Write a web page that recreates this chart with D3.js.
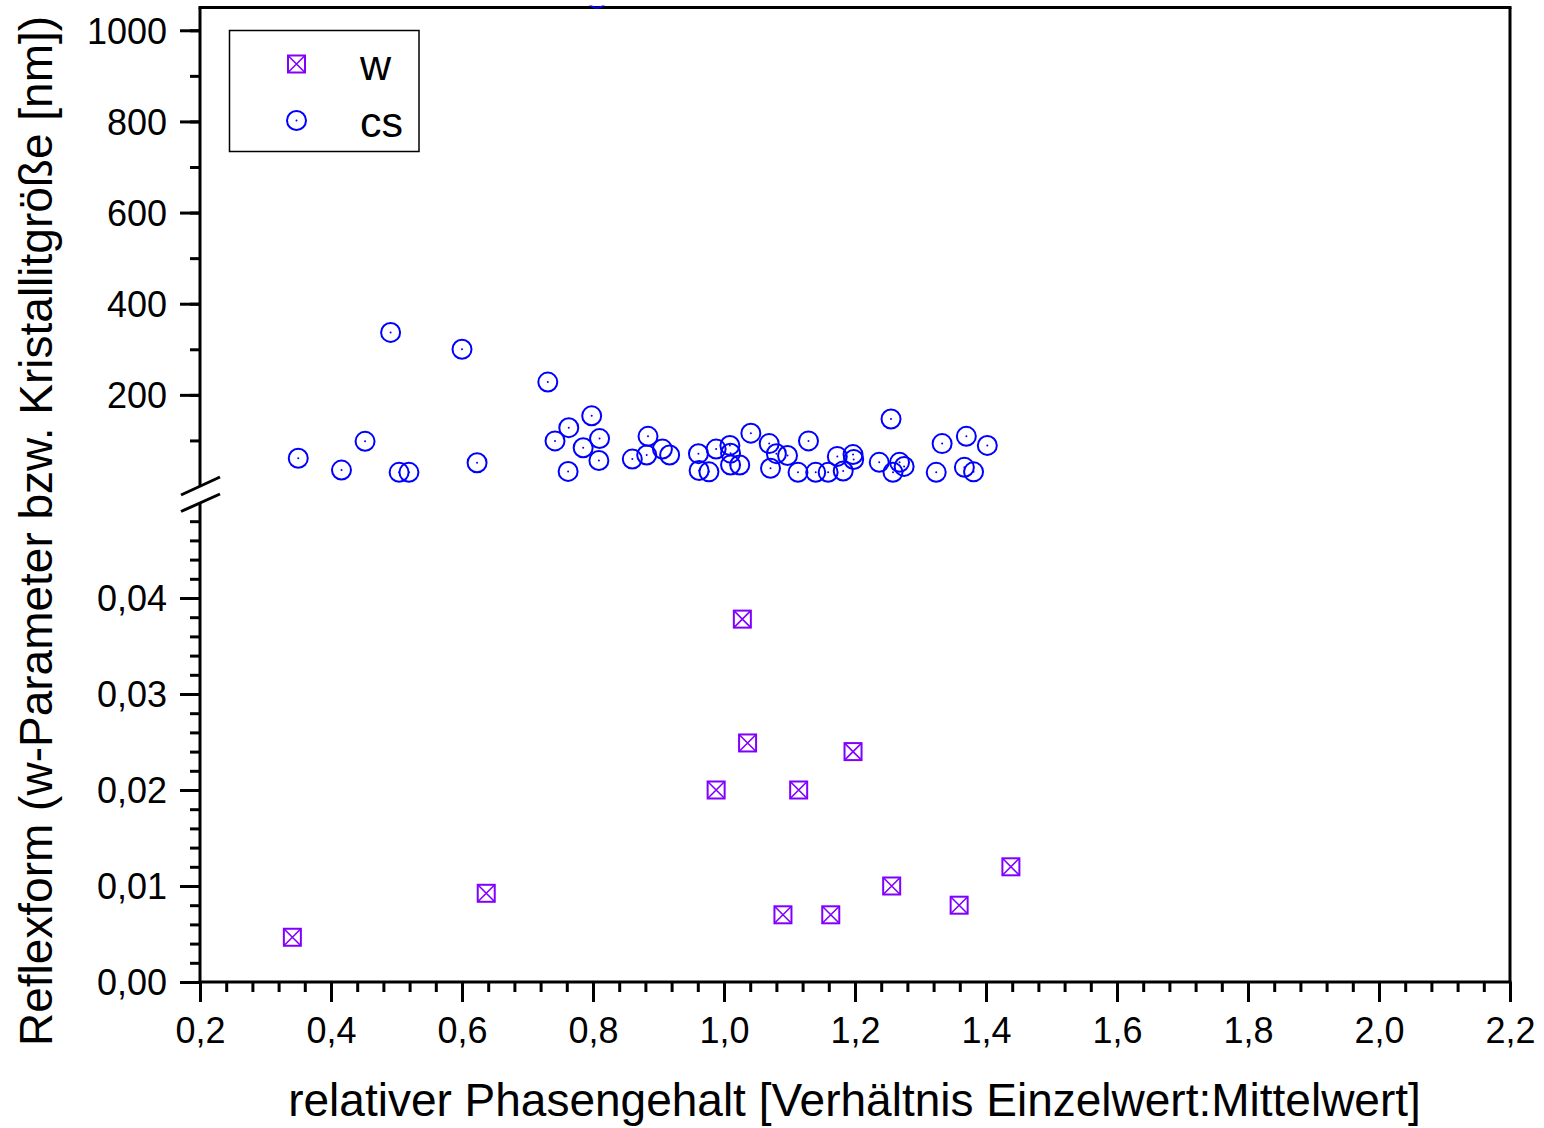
<!DOCTYPE html>
<html>
<head>
<meta charset="utf-8">
<script src="https://cdn.jsdelivr.net/npm/d3@7"></script>
<style>
  html, body { margin: 0; padding: 0; background: #fff; }
  svg { display: block; font-family: "Liberation Sans", Arial, Helvetica, sans-serif; }
</style>
</head>
<body>
<svg id="chart" width="1544" height="1128"></svg>
<script>
// ---- data ----
const wX = [0.341, 0.637, 1.028, 1.036, 0.988, 1.114, 1.197, 1.090, 1.163, 1.256, 1.359, 1.438];
const wY = [0.00466, 0.00924, 0.0378, 0.0249, 0.0200, 0.0200, 0.0240, 0.0070, 0.0070, 0.0100, 0.0080, 0.0120];

const csX = [0.350, 0.416, 0.452, 0.491, 0.504, 0.519, 0.600, 0.623, 0.731, 0.742,
             0.763, 0.762, 0.785, 0.798, 0.810, 0.809, 0.860, 0.882, 0.884, 0.906,
             0.917, 0.961, 0.962, 0.977, 0.988, 1.009, 1.010, 1.010, 1.024, 1.041,
             1.069, 1.071, 1.080, 1.097, 1.113, 1.129, 1.140, 1.159, 1.173, 1.182,
             1.197, 1.198, 1.237, 1.255, 1.258, 1.268, 1.275, 1.324, 1.333, 1.367,
             1.370, 1.381, 1.402, 0.806];
const csY = [61, 35, 98, 337, 30, 30, 300, 51, 228, 99,
             128, 32, 84, 154, 104, 56, 59, 68, 109, 81,
             68, 71, 34, 31, 81, 89, 72, 46, 46, 116,
             93, 39, 71, 67, 30, 99, 30, 30, 65, 33,
             69, 58, 52, 147, 30, 52, 43, 30, 93, 41,
             109, 31, 89, 1070];

const xTickValues = [0.2, 0.4, 0.6, 0.8, 1.0, 1.2, 1.4, 1.6, 1.8, 2.0, 2.2];
const yLowTickValues = [0.00, 0.01, 0.02, 0.03, 0.04];
const yHighTickValues = [200, 400, 600, 800, 1000];
const legendLabels = ["w", "cs"];
const xTitle = "relativer Phasengehalt [Verhältnis Einzelwert:Mittelwert]";
const yTitle = "Reflexform (w-Parameter bzw. Kristallitgröße [nm])";

// ---- layout ----
const L = 200, R = 1510, T = 7.5, B = 982;
const lowTop = 502, highBottom = 486;
const svg = d3.select("#chart");

const x = d3.scaleLinear().domain([0.2, 2.2]).range([L, R]);
const yLow = d3.scaleLinear().domain([0, 0.05]).range([B, lowTop]);
const yHigh = d3.scaleLinear().domain([0, 1050]).range([highBottom, T]);

const comma = f => v => d3.format(f)(v).replace(".", ",");

// minor ticks
const xMinor = d3.range(0, 51).map(i => 0.2 + i * 0.04).filter(v => v <= 2.2001);
const yLowMinor = d3.range(0, 25).map(i => i * 0.002);
const yHighMinor = d3.range(1, 11).map(i => i * 100);

function styleAxis(g) {
  g.select(".domain").remove();
  g.selectAll(".tick line").attr("stroke", "#000").attr("stroke-width", 3);
  g.selectAll(".tick text").attr("fill", "#000").attr("font-size", 36)
    .attr("font-family", '"Liberation Sans", Arial, sans-serif');
}

// X axis
svg.append("g").attr("transform", `translate(0,${B})`)
  .call(d3.axisBottom(x).tickValues(xMinor).tickSize(10).tickFormat(""))
  .call(styleAxis);
svg.append("g").attr("transform", `translate(0,${B})`)
  .call(d3.axisBottom(x).tickValues(xTickValues).tickSize(20).tickPadding(16).tickFormat(comma(".1f")))
  .call(styleAxis)
  .call(g => g.selectAll(".tick text").attr("dy", null).attr("y", 61));

// Y lower axis
svg.append("g").attr("transform", `translate(${L},0)`)
  .call(d3.axisLeft(yLow).tickValues(yLowMinor).tickSize(10).tickFormat(""))
  .call(styleAxis);
svg.append("g").attr("transform", `translate(${L},0)`)
  .call(d3.axisLeft(yLow).tickValues(yLowTickValues).tickSize(20).tickPadding(13).tickFormat(comma(".2f")))
  .call(styleAxis)
  .call(g => g.selectAll(".tick text").attr("dy", "0.36em"));

// Y upper axis
svg.append("g").attr("transform", `translate(${L},0)`)
  .call(d3.axisLeft(yHigh).tickValues(yHighMinor).tickSize(10).tickFormat(""))
  .call(styleAxis);
svg.append("g").attr("transform", `translate(${L},0)`)
  .call(d3.axisLeft(yHigh).tickValues(yHighTickValues).tickSize(20).tickPadding(13).tickFormat(d3.format("d")))
  .call(styleAxis)
  .call(g => g.selectAll(".tick text").attr("dy", "0.36em"));

// frame
const frame = svg.append("g").attr("stroke", "#000").attr("stroke-width", 3).attr("fill", "none");
frame.append("line").attr("x1", L - 1.5).attr("x2", R + 1.5).attr("y1", T).attr("y2", T);
frame.append("line").attr("x1", L - 1.5).attr("x2", R + 1.5).attr("y1", B).attr("y2", B);
frame.append("line").attr("x1", R).attr("x2", R).attr("y1", T).attr("y2", B);
frame.append("line").attr("x1", L).attr("x2", L).attr("y1", T).attr("y2", highBottom);
frame.append("line").attr("x1", L).attr("x2", L).attr("y1", lowTop + 1).attr("y2", B);
// break marks
frame.append("line").attr("x1", L - 19).attr("y1", highBottom + 9).attr("x2", L + 20).attr("y2", highBottom - 9);
frame.append("line").attr("x1", L - 19).attr("y1", lowTop + 9.5).attr("x2", L + 20).attr("y2", lowTop - 8);

// clip
svg.append("defs").append("clipPath").attr("id", "clip")
  .append("rect").attr("x", L).attr("y", T - 2).attr("width", R - L).attr("height", B - T + 2);

const marks = svg.append("g").attr("clip-path", "url(#clip)");
const wColor = "#8000ff", csColor = "#0000ff";

function drawCircle(g, cx, cy) {
  g.append("circle").attr("cx", cx).attr("cy", cy).attr("r", 9.5)
    .attr("fill", "none").attr("stroke", csColor).attr("stroke-width", 2);
  g.append("circle").attr("cx", cx).attr("cy", cy).attr("r", 1)
    .attr("fill", csColor);
}
function drawSquare(g, cx, cy) {
  const h = 8.5;
  g.append("rect").attr("x", cx - h).attr("y", cy - h).attr("width", 2 * h).attr("height", 2 * h)
    .attr("fill", "none").attr("stroke", wColor).attr("stroke-width", 2);
  g.append("path").attr("d", `M${cx - h},${cy - h}L${cx + h},${cy + h}M${cx + h},${cy - h}L${cx - h},${cy + h}`)
    .attr("stroke", wColor).attr("stroke-width", 1.6).attr("fill", "none");
}

csX.forEach((v, i) => drawCircle(marks, x(v), yHigh(csY[i])));
wX.forEach((v, i) => drawSquare(marks, x(v), yLow(wY[i])));

// legend
const lg = svg.append("g");
lg.append("rect").attr("x", 229.5).attr("y", 30.5).attr("width", 189.5).attr("height", 121)
  .attr("fill", "#fff").attr("stroke", "#000").attr("stroke-width", 1.5);
drawSquare(lg, 296.5, 64);
drawCircle(lg, 296.5, 120.5);
lg.selectAll("text.leg").data(legendLabels).enter().append("text")
  .attr("x", 360).attr("y", (d, i) => 80 + i * 56.5)
  .attr("font-size", 43).attr("fill", "#000").text(d => d);

// titles
svg.append("text").attr("x", 854.5).attr("y", 1116).attr("text-anchor", "middle")
  .attr("font-size", 46).attr("fill", "#000").text(xTitle);
svg.append("text").attr("transform", "translate(52,531) rotate(-90)").attr("text-anchor", "middle")
  .attr("font-size", 46).attr("fill", "#000").text(yTitle);
</script>
</body>
</html>
